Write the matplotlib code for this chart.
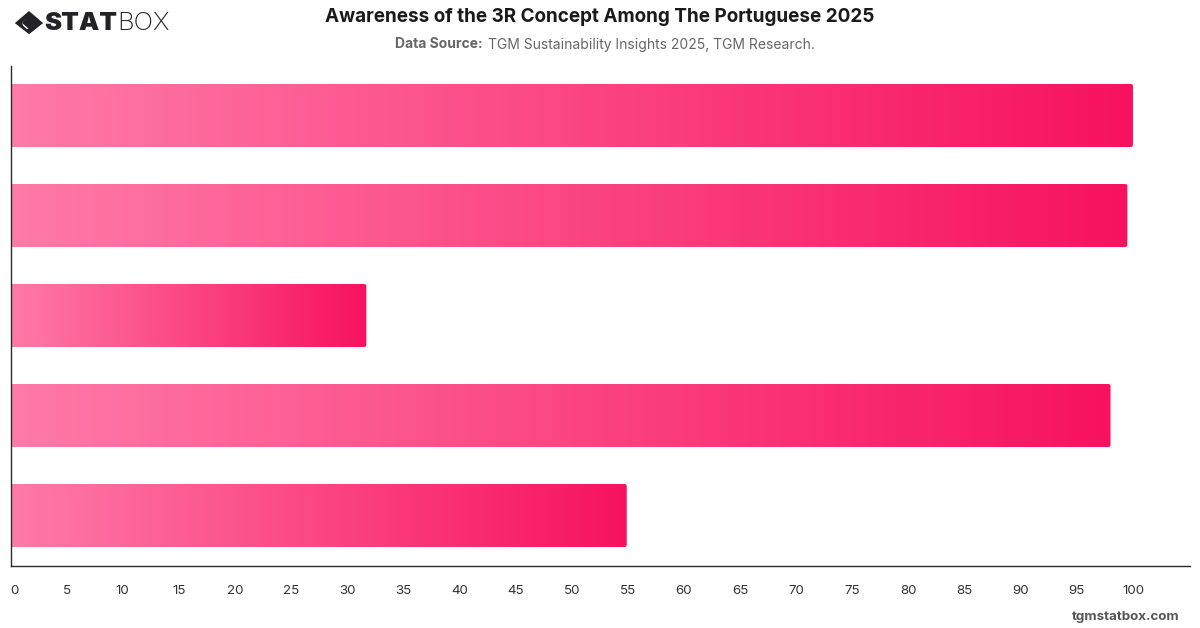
import matplotlib
matplotlib.use("Agg")
import matplotlib.pyplot as plt
from matplotlib.colors import LinearSegmentedColormap
from matplotlib.patches import FancyBboxPatch, Polygon
import numpy as np

plt.rcParams['font.family'] = ['Inter', 'DejaVu Sans']

# Category labels are not shown on the chart, so only the bar order is kept.
positions = [0, 1, 2, 3, 4]
values = [100.0, 99.5, 31.7, 98.0, 54.9]
tick_values = list(range(0, 105, 5))

W, H = 1200, 628
fig = plt.figure(figsize=(W / 100, H / 100), dpi=100, facecolor='white')
ax = fig.add_axes([10.5 / W, 1 - 565.5 / H, 1179.5 / W, 500 / H])
ax.set_xlim(0, 105.08)
ax.set_ylim(4.5, -0.5)
ax.set_facecolor('white')

cmap = LinearSegmentedColormap.from_list('pinks', ['#ff7aa8', '#f7125f'])
grad = np.linspace(0, 1, 256).reshape(1, -1)

for p, v in zip(positions, values):
    im = ax.imshow(grad, cmap=cmap, extent=(0, v, p + 0.315, p - 0.315),
                   aspect='auto', interpolation='bilinear', zorder=2)
    clip = FancyBboxPatch((-0.5, p - 0.315), v + 0.5, 0.63,
                          boxstyle='round,pad=0,rounding_size=0.2',
                          mutation_aspect=0.1, transform=ax.transData,
                          fc='none', ec='none')
    ax.add_patch(clip)
    im.set_clip_path(clip)
ax.set_xlim(0, 105.08)
ax.set_ylim(4.5, -0.5)

for s in ('top', 'right'):
    ax.spines[s].set_visible(False)
for s in ('left', 'bottom'):
    ax.spines[s].set_color('#2b2b2b')
    ax.spines[s].set_linewidth(1.0)
ax.set_yticks([])
ax.set_xticks(tick_values)
ax.set_xticklabels([str(t) for t in tick_values], fontsize=9.6, color='#333333')
ax.tick_params(axis='x', length=0, pad=14)
ax.get_xticklabels()[0].set_ha('left')

def px(x, y, s, **kw):
    fig.text(x / W, 1 - y / H, s, **kw)

px(600, 17, 'Awareness of the 3R Concept Among The Portuguese 2025',
   fontsize=13.6, fontweight='bold', color='#1a1a1a', ha='center', va='center')
px(395, 44.5, 'Data Source:', fontsize=10, fontweight='bold', color='#666666',
   ha='left', va='center')
px(487.5, 44.5, 'TGM Sustainability Insights 2025, TGM Research.', fontsize=10,
   color='#666666', ha='left', va='center')
px(1180, 617, 'tgmstatbox.com', fontsize=9.6, fontweight='bold', color='#555555',
   ha='right', va='center')

# Wordmark: diamond emblem followed by the two-weight brand name
def poly(points, color):
    pts = [(x / W, 1 - y / H) for x, y in points]
    fig.add_artist(Polygon(pts, closed=True, fc=color, ec='none',
                           transform=fig.transFigure))

dark = '#222228'
poly([(15, 23), (29, 11), (43, 23), (29, 34), (25, 31), (35, 23), (29, 17), (22, 23), (25, 31), (29, 34)], dark)
poly([(29, 16), (36, 23), (29, 29), (22, 23)], dark)
poly([(15, 23), (20, 23), (29, 31), (29, 34)], dark)
poly([(43, 23), (38, 23), (29, 31), (29, 34)], dark)
px(44, 23, 'STAT', fontsize=18.5, fontweight='black', color=dark, ha='left', va='center')
px(117, 23, 'BOX', fontsize=18.5, fontweight='light', color=dark, ha='left', va='center')

fig.savefig('out.png', dpi=100, facecolor='white')
